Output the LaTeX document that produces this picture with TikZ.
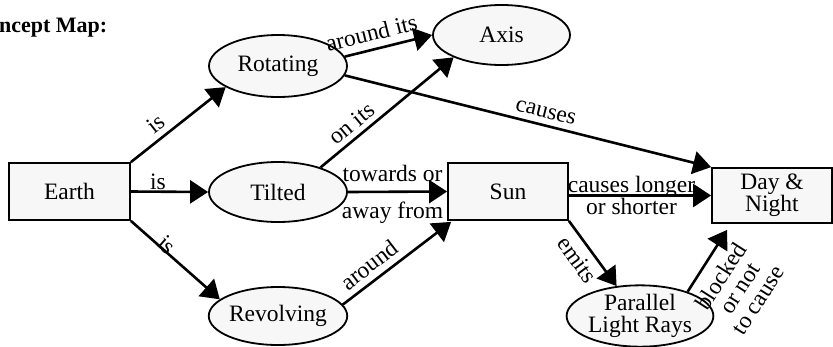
\documentclass[tikz,border=0pt]{standalone}
\usepackage{fontspec}
\setmainfont{Liberation Serif}
\usetikzlibrary{shapes.geometric,arrows.meta,calc}
\definecolor{shapefill}{HTML}{F7F7F7}
\begin{document}
\begin{tikzpicture}[x=1pt,y=-1pt,
  font=\fontsize{23.5}{22}\selectfont,
  concept/.style={draw=black,fill=shapefill,line width=1.8pt,inner sep=0pt,align=center},
  box/.style={concept,rectangle},
  oval/.style={concept,ellipse},
  link/.style={line width=2.6pt,-{Triangle[length=18pt,width=23pt]}},
  lbl/.style={inner sep=2pt,align=center}
]
\useasboundingbox (0,0) rectangle (833,346);

% heading, cut by the page edge
\begin{scope}
  \clip (0,0) rectangle (833,346);
  \node[anchor=base west,inner sep=0pt,font=\bfseries\fontsize{22}{22}\selectfont] (title) at (-28,32) {Concept Map:};
\end{scope}

% concepts
\node[box,minimum width=121pt,minimum height=57pt] (earth) at (69.5,191.5) {Earth};
\node[box,minimum width=120pt,minimum height=57pt] (sun) at (508,191.5) {Sun};
\node[box,minimum width=120pt,minimum height=55pt] (dn) at (772,195.5) {Day \&\\Night};
\node[oval,minimum width=138pt,minimum height=62pt] (rot) at (278,66) {Rotating};
\node[oval,minimum width=137pt,minimum height=60pt] (axis) at (501.5,35) {Axis};
\node[oval,minimum width=138pt,minimum height=60pt] (tilt) at (278,192) {Tilted};
\node[oval,minimum width=138pt,minimum height=58pt] (rev) at (278,316) {Revolving};
\node[oval,minimum width=136pt,minimum height=58pt] (plr) at (640,316) {Parallel\\Light Rays};

% links
\draw[link] (earth.north east) -- node[lbl,sloped,above=3pt,pos=0.36]{is} (rot.202);
\draw[link] (earth.east) -- node[lbl,above=-1pt,pos=0.35]{is} (tilt.west);
\draw[link] (earth.south east) -- node[lbl,sloped,above=-5pt,pos=0.36]{is} (rev.164);
\draw[link] (rot.8) -- node[lbl,sloped,above=5pt,pos=0.35]{around its} (axis.west);
\draw[link] (rot.-8) -- node[lbl,sloped,above=4pt,pos=0.54]{causes} (dn.north west);
\draw[link] (tilt.30) -- node[lbl,sloped,above=3pt,pos=0.3]{on its} (axis.205);
\draw[link] (tilt.east) -- node[lbl,above=7pt,pos=0.45]{towards or} node[lbl,below=7pt,pos=0.45]{away from} (sun.west);
\draw[link] (rev.10) -- node[lbl,sloped,above=4pt,pos=0.33]{around} ($(sun.south west)+(4,1)$);
\draw[link] (sun.east |- dn.west) -- node[lbl,pos=0.44]{causes longer\\or shorter} (dn.west);
\draw[link] (sun.south east) -- node[lbl,sloped,below=5pt,pos=0.45]{emits} (plr.128);
\draw[link] (plr.27) -- node[lbl,sloped,below=8pt,pos=0.42]{blocked\\or not\\to cause} ($(dn.south west)+(16,6)$);
\end{tikzpicture}
\end{document}
